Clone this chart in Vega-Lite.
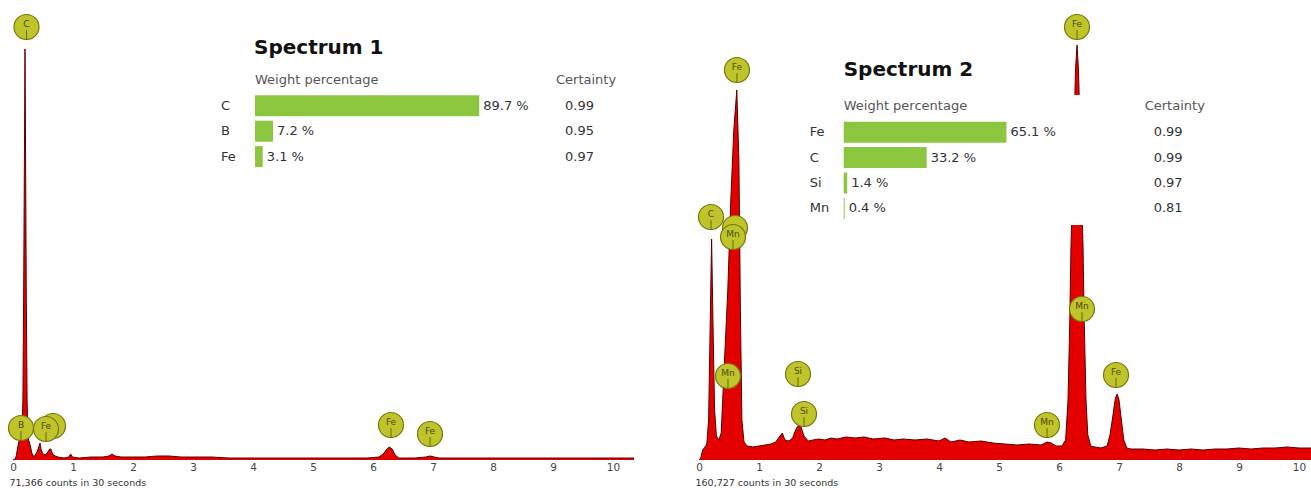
{
  "$schema": "https://vega.github.io/schema/vega-lite/v6.json",
  "background": "white",
  "padding": {"left": 6, "top": 0, "right": 0, "bottom": 0},
  "bounds": "flush",
  "spacing": 86,
  "config": {
    "view": {"stroke": null},
    "font": "DejaVu Sans",
    "axis": {"domain": false, "ticks": false, "grid": false, "labelFont": "DejaVu Sans", "labelFontSize": 10.5, "labelColor": "#444", "labelPadding": 2, "titleFont": "DejaVu Sans", "titleFontSize": 9.5, "titleFontWeight": "normal", "titleColor": "#333"}
  },
  "datasets": {
    "s1": [
      {"kev":0,"cnt":0},{"kev":0.03,"cnt":1},{"kev":0.05,"cnt":3},{"kev":0.083,"cnt":14},{"kev":0.117,"cnt":24},{"kev":0.15,"cnt":28},{"kev":0.165,"cnt":60},{"kev":0.178,"cnt":170},{"kev":0.19,"cnt":300},{"kev":0.2,"cnt":411},{"kev":0.21,"cnt":300},{"kev":0.222,"cnt":160},{"kev":0.235,"cnt":60},{"kev":0.25,"cnt":22},{"kev":0.27,"cnt":18},{"kev":0.29,"cnt":14},{"kev":0.31,"cnt":8},{"kev":0.33,"cnt":4},{"kev":0.36,"cnt":4},{"kev":0.4,"cnt":8},{"kev":0.43,"cnt":13},{"kev":0.45,"cnt":17},{"kev":0.47,"cnt":10},{"kev":0.5,"cnt":6},{"kev":0.54,"cnt":5},{"kev":0.58,"cnt":8},{"kev":0.61,"cnt":11},{"kev":0.63,"cnt":11},{"kev":0.66,"cnt":6},{"kev":0.7,"cnt":4},{"kev":0.75,"cnt":3},{"kev":0.85,"cnt":2},{"kev":0.93,"cnt":3},{"kev":0.96,"cnt":6},{"kev":0.99,"cnt":3},{"kev":1.1,"cnt":2},{"kev":1.3,"cnt":3},{"kev":1.5,"cnt":3},{"kev":1.6,"cnt":4},{"kev":1.65,"cnt":6},{"kev":1.7,"cnt":4},{"kev":1.8,"cnt":3},{"kev":2.0,"cnt":3},{"kev":2.2,"cnt":3},{"kev":2.4,"cnt":4},{"kev":2.6,"cnt":4},{"kev":2.8,"cnt":3},{"kev":3.0,"cnt":3},{"kev":3.3,"cnt":3},{"kev":3.6,"cnt":2},{"kev":4.0,"cnt":2},{"kev":4.5,"cnt":2},{"kev":5.0,"cnt":2},{"kev":5.5,"cnt":2},{"kev":5.9,"cnt":2},{"kev":6.1,"cnt":3},{"kev":6.17,"cnt":6},{"kev":6.22,"cnt":10},{"kev":6.27,"cnt":13},{"kev":6.32,"cnt":11},{"kev":6.37,"cnt":5},{"kev":6.43,"cnt":2},{"kev":6.7,"cnt":2},{"kev":6.88,"cnt":3},{"kev":6.95,"cnt":4},{"kev":7.02,"cnt":3},{"kev":7.1,"cnt":2},{"kev":7.5,"cnt":2},{"kev":8.0,"cnt":2},{"kev":8.5,"cnt":2},{"kev":9.0,"cnt":2},{"kev":9.5,"cnt":2},{"kev":10.0,"cnt":2},{"kev":10.35,"cnt":2}
    ],
    "l1b": [
      {"kev":0.667,"cnt":34,"el":"Fe"}
    ],
    "l1f": [
      {"kev":0.225,"cnt":433,"el":"C"},{"kev":0.133,"cnt":32,"el":"B"},{"kev":0.55,"cnt":31,"el":"Fe"},{"kev":6.3,"cnt":35,"el":"Fe"},{"kev":6.95,"cnt":26,"el":"Fe"}
    ],
    "t1": [
      {"el":"C","pct":89.7,"cert":0.99,"row":0},{"el":"B","pct":7.2,"cert":0.95,"row":1},{"el":"Fe","pct":3.1,"cert":0.97,"row":2}
    ],
    "s2": [
      {"kev":0,"cnt":0},{"kev":0.03,"cnt":2},{"kev":0.06,"cnt":10},{"kev":0.1,"cnt":13},{"kev":0.13,"cnt":16},{"kev":0.16,"cnt":40},{"kev":0.185,"cnt":130},{"kev":0.21,"cnt":221},{"kev":0.235,"cnt":130},{"kev":0.26,"cnt":50},{"kev":0.29,"cnt":24},{"kev":0.33,"cnt":20},{"kev":0.37,"cnt":27},{"kev":0.42,"cnt":93},{"kev":0.48,"cnt":170},{"kev":0.53,"cnt":260},{"kev":0.58,"cnt":330},{"kev":0.63,"cnt":370},{"kev":0.665,"cnt":300},{"kev":0.69,"cnt":150},{"kev":0.715,"cnt":40},{"kev":0.75,"cnt":18},{"kev":0.8,"cnt":14},{"kev":0.9,"cnt":13},{"kev":1.0,"cnt":14},{"kev":1.1,"cnt":15},{"kev":1.2,"cnt":16},{"kev":1.28,"cnt":18},{"kev":1.35,"cnt":24},{"kev":1.39,"cnt":27},{"kev":1.43,"cnt":20},{"kev":1.5,"cnt":19},{"kev":1.56,"cnt":22},{"kev":1.61,"cnt":30},{"kev":1.65,"cnt":34},{"kev":1.7,"cnt":33},{"kev":1.75,"cnt":24},{"kev":1.82,"cnt":19},{"kev":1.9,"cnt":20},{"kev":2.0,"cnt":21},{"kev":2.1,"cnt":20},{"kev":2.2,"cnt":22},{"kev":2.3,"cnt":21},{"kev":2.45,"cnt":23},{"kev":2.6,"cnt":22},{"kev":2.75,"cnt":23},{"kev":2.9,"cnt":21},{"kev":3.1,"cnt":22},{"kev":3.25,"cnt":20},{"kev":3.4,"cnt":21},{"kev":3.6,"cnt":20},{"kev":3.8,"cnt":21},{"kev":4.0,"cnt":19},{"kev":4.1,"cnt":22},{"kev":4.2,"cnt":18},{"kev":4.35,"cnt":20},{"kev":4.5,"cnt":18},{"kev":4.7,"cnt":19},{"kev":4.9,"cnt":17},{"kev":5.1,"cnt":16},{"kev":5.3,"cnt":15},{"kev":5.5,"cnt":16},{"kev":5.7,"cnt":15},{"kev":5.8,"cnt":18},{"kev":5.87,"cnt":17},{"kev":5.95,"cnt":14},{"kev":6.05,"cnt":14},{"kev":6.11,"cnt":20},{"kev":6.15,"cnt":60},{"kev":6.18,"cnt":140},{"kev":6.2,"cnt":215},{"kev":6.225,"cnt":270},{"kev":6.25,"cnt":330},{"kev":6.275,"cnt":390},{"kev":6.3,"cnt":415},{"kev":6.325,"cnt":390},{"kev":6.35,"cnt":330},{"kev":6.375,"cnt":270},{"kev":6.4,"cnt":215},{"kev":6.42,"cnt":140},{"kev":6.45,"cnt":60},{"kev":6.48,"cnt":25},{"kev":6.53,"cnt":14},{"kev":6.6,"cnt":13},{"kev":6.7,"cnt":12},{"kev":6.8,"cnt":14},{"kev":6.85,"cnt":25},{"kev":6.9,"cnt":45},{"kev":6.94,"cnt":62},{"kev":6.97,"cnt":66},{"kev":7.0,"cnt":60},{"kev":7.04,"cnt":40},{"kev":7.08,"cnt":20},{"kev":7.13,"cnt":12},{"kev":7.2,"cnt":11},{"kev":7.4,"cnt":11},{"kev":7.6,"cnt":10},{"kev":7.8,"cnt":11},{"kev":8.0,"cnt":10},{"kev":8.2,"cnt":11},{"kev":8.4,"cnt":10},{"kev":8.6,"cnt":11},{"kev":8.8,"cnt":11},{"kev":9.0,"cnt":12},{"kev":9.2,"cnt":11},{"kev":9.4,"cnt":12},{"kev":9.6,"cnt":12},{"kev":9.8,"cnt":13},{"kev":10.0,"cnt":12},{"kev":10.25,"cnt":12}
    ],
    "l2b": [
      {"kev":0.6,"cnt":232,"el":"Mn"}
    ],
    "l2f": [
      {"kev":6.3,"cnt":433,"el":"Fe"},{"kev":0.633,"cnt":390,"el":"Fe"},{"kev":0.2,"cnt":243,"el":"C"},{"kev":0.567,"cnt":223,"el":"Mn"},{"kev":0.483,"cnt":84,"el":"Mn"},{"kev":1.65,"cnt":86,"el":"Si"},{"kev":1.75,"cnt":46,"el":"Si"},{"kev":5.8,"cnt":35,"el":"Mn"},{"kev":6.383,"cnt":151,"el":"Mn"},{"kev":6.95,"cnt":85,"el":"Fe"}
    ],
    "t2": [
      {"el":"Fe","pct":65.1,"cert":0.99,"row":0},{"el":"C","pct":33.2,"cert":0.99,"row":1},{"el":"Si","pct":1.4,"cert":0.97,"row":2},{"el":"Mn","pct":0.4,"cert":0.81,"row":3}
    ]
  },
  "hconcat": [
    {
      "width": 600, "height": 460,
      "resolve": {"scale": {"x": "independent", "y": "independent"}},
      "layer": [
        {
          "encoding": {
            "x": {"field": "kev", "type": "quantitative", "scale": {"domain": [0, 10], "nice": false, "zero": false}, "axis": {"values": [0,1,2,3,4,5,6,7,8,9,10], "title": "71,366 counts in 30 seconds", "titleAnchor": "start", "titleAlign": "left", "titleX": -4, "titleY": 25, "titleBaseline": "alphabetic", "labelFlush": false}},
            "y": {"field": "cnt", "type": "quantitative", "scale": {"domain": [0, 460], "nice": false}, "axis": null}
          },
          "layer": [
            {"data": {"name": "s1"}, "mark": {"type": "area", "color": "#e50000", "opacity": 1, "line": {"color": "#5c0000", "strokeWidth": 1}}},
            {"data": {"name": "l1b"}, "layer": [
              {"mark": {"type": "point", "shape": "circle", "filled": true, "fill": "#bec42a", "stroke": "#76780a", "strokeWidth": 1.2, "size": 625, "opacity": 1}},
              {"mark": {"type": "point", "shape": "M0,0.25L0,1", "filled": false, "stroke": "#66680a", "strokeWidth": 1, "size": 625, "opacity": 1}}
            ]},
            {"data": {"name": "l1f"}, "layer": [
              {"mark": {"type": "point", "shape": "circle", "filled": true, "fill": "#bec42a", "stroke": "#76780a", "strokeWidth": 1.2, "size": 625, "opacity": 1}},
              {"mark": {"type": "point", "shape": "M0,0.25L0,1", "filled": false, "stroke": "#66680a", "strokeWidth": 1, "size": 625, "opacity": 1}},
              {"mark": {"type": "text", "dy": -3.5, "fontSize": 9, "color": "#4a4c05"}, "encoding": {"text": {"field": "el"}}}
            ]}
          ]
        },
        {
          "data": {"name": "t1"},
          "encoding": {
            "x": {"field": "pct", "type": "quantitative", "scale": {"domain": [-96.8, 143.2], "nice": false, "zero": false}, "axis": null},
            "y": {"field": "row", "type": "quantitative", "scale": {"domain": [-3.9615, 13.7308], "nice": false, "zero": false, "reverse": true}, "axis": null}
          },
          "layer": [
            {"mark": {"type": "bar", "orient": "horizontal", "color": "#8cc63f", "size": 21}, "encoding": {"x2": {"datum": 0}}},
            {"mark": {"type": "text", "align": "left", "baseline": "middle", "dx": 4, "fontSize": 13, "color": "#333", "text": {"expr": "format(datum.pct, '.1f') + ' %'"}}},
            {"mark": {"type": "text", "align": "left", "baseline": "middle", "dx": -34, "fontSize": 13, "color": "#333"}, "encoding": {"x": {"datum": 0}, "text": {"field": "el"}}},
            {"mark": {"type": "text", "align": "left", "baseline": "middle", "dx": 310, "fontSize": 13, "color": "#333"}, "encoding": {"x": {"datum": 0}, "text": {"field": "cert", "format": ".2f"}}},
            {"transform": [{"filter": "datum.row == 0"}], "mark": {"type": "text", "align": "left", "baseline": "middle", "dy": -26, "fontSize": 13, "color": "#555", "text": "Weight percentage"}, "encoding": {"x": {"datum": 0}}},
            {"transform": [{"filter": "datum.row == 0"}], "mark": {"type": "text", "align": "left", "baseline": "middle", "dx": 301, "dy": -26, "fontSize": 13, "color": "#555", "text": "Certainty"}, "encoding": {"x": {"datum": 0}}},
            {"transform": [{"filter": "datum.row == 0"}], "mark": {"type": "text", "align": "left", "baseline": "alphabetic", "dx": -1, "dy": -52, "fontSize": 20, "fontWeight": "bold", "color": "#111", "text": "Spectrum 1"}, "encoding": {"x": {"datum": 0}}}
          ]
        }
      ]
    },
    {
      "width": 600, "height": 460,
      "resolve": {"scale": {"x": "independent", "y": "independent"}},
      "layer": [
        {
          "encoding": {
            "x": {"field": "kev", "type": "quantitative", "scale": {"domain": [0, 10], "nice": false, "zero": false}, "axis": {"values": [0,1,2,3,4,5,6,7,8,9,10], "title": "160,727 counts in 30 seconds", "titleAnchor": "start", "titleAlign": "left", "titleX": -4, "titleY": 25, "titleBaseline": "alphabetic", "labelFlush": false}},
            "y": {"field": "cnt", "type": "quantitative", "scale": {"domain": [0, 460], "nice": false}, "axis": null}
          },
          "layer": [
            {"data": {"name": "s2"}, "mark": {"type": "area", "color": "#e50000", "opacity": 1, "line": {"color": "#5c0000", "strokeWidth": 1}}},
            {"data": {"name": "l2b"}, "layer": [
              {"mark": {"type": "point", "shape": "circle", "filled": true, "fill": "#bec42a", "stroke": "#76780a", "strokeWidth": 1.2, "size": 625, "opacity": 1}},
              {"mark": {"type": "point", "shape": "M0,0.25L0,1", "filled": false, "stroke": "#66680a", "strokeWidth": 1, "size": 625, "opacity": 1}}
            ]},
            {"data": {"name": "l2f"}, "layer": [
              {"mark": {"type": "point", "shape": "circle", "filled": true, "fill": "#bec42a", "stroke": "#76780a", "strokeWidth": 1.2, "size": 625, "opacity": 1}},
              {"mark": {"type": "point", "shape": "M0,0.25L0,1", "filled": false, "stroke": "#66680a", "strokeWidth": 1, "size": 625, "opacity": 1}},
              {"mark": {"type": "text", "dy": -3.5, "fontSize": 9, "color": "#4a4c05"}, "encoding": {"text": {"field": "el"}}}
            ]}
          ]
        },
        {
          "data": {"name": "t2"},
          "encoding": {
            "x": {"field": "pct", "type": "quantitative", "scale": {"domain": [-57.88, 182.12], "nice": false, "zero": false}, "axis": null},
            "y": {"field": "row", "type": "quantitative", "scale": {"domain": [-5, 12.6923], "nice": false, "zero": false, "reverse": true}, "axis": null}
          },
          "layer": [
            {"transform": [{"filter": "datum.row == 0"}], "mark": {"type": "rect", "color": "white", "opacity": 1}, "encoding": {"x": {"datum": -17}, "x2": {"datum": 149}, "y": {"datum": -1.46}, "y2": {"datum": 3.65}}},
            {"mark": {"type": "bar", "orient": "horizontal", "color": "#8cc63f", "size": 21}, "encoding": {"x2": {"datum": 0}}},
            {"mark": {"type": "text", "align": "left", "baseline": "middle", "dx": 4, "fontSize": 13, "color": "#333", "text": {"expr": "format(datum.pct, '.1f') + ' %'"}}},
            {"mark": {"type": "text", "align": "left", "baseline": "middle", "dx": -34, "fontSize": 13, "color": "#333"}, "encoding": {"x": {"datum": 0}, "text": {"field": "el"}}},
            {"mark": {"type": "text", "align": "left", "baseline": "middle", "dx": 310, "fontSize": 13, "color": "#333"}, "encoding": {"x": {"datum": 0}, "text": {"field": "cert", "format": ".2f"}}},
            {"transform": [{"filter": "datum.row == 0"}], "mark": {"type": "text", "align": "left", "baseline": "middle", "dy": -26, "fontSize": 13, "color": "#555", "text": "Weight percentage"}, "encoding": {"x": {"datum": 0}}},
            {"transform": [{"filter": "datum.row == 0"}], "mark": {"type": "text", "align": "left", "baseline": "middle", "dx": 301, "dy": -26, "fontSize": 13, "color": "#555", "text": "Certainty"}, "encoding": {"x": {"datum": 0}}},
            {"transform": [{"filter": "datum.row == 0"}], "mark": {"type": "text", "align": "left", "baseline": "alphabetic", "dy": -55.7, "fontSize": 20, "fontWeight": "bold", "color": "#111", "text": "Spectrum 2"}, "encoding": {"x": {"datum": 0}}}
          ]
        }
      ]
    }
  ]
}
